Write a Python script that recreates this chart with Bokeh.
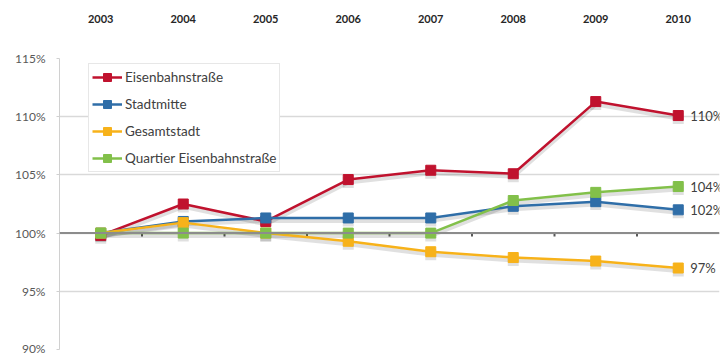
from bokeh.plotting import figure
from bokeh.models import ColumnDataSource, FixedTicker, Range1d, Span
from bokeh.transform import dodge
from bokeh.core.properties import value
from bokeh.embed import file_html
from bokeh.resources import INLINE

years = ["2003", "2004", "2005", "2006", "2007", "2008", "2009", "2010"]
eisenbahnstrasse = [99.8, 102.5, 101.0, 104.6, 105.4, 105.1, 111.3, 110.1]
stadtmitte = [100.0, 101.0, 101.3, 101.3, 101.3, 102.3, 102.7, 102.0]
gesamtstadt = [100.0, 100.9, 100.0, 99.3, 98.4, 97.9, 97.6, 97.0]
quartier = [100.0, 100.0, 100.0, 100.0, 100.0, 102.8, 103.5, 104.0]
y_ticks = [90, 95, 100, 105, 110, 115]

series = [
    ("Eisenbahnstraße", eisenbahnstrasse, "#C0122E"),
    ("Stadtmitte", stadtmitte, "#2F6EA8"),
    ("Gesamtstadt", gesamtstadt, "#F7B21A"),
    ("Quartier Eisenbahnstraße", quartier, "#82C04A"),
]

FONT = "Lato"
xs = list(range(len(years)))

p = figure(width=722, height=355, output_backend="svg", toolbar_location=None,
           x_axis_location="above",
           x_range=Range1d(-0.5, len(years) - 0.5), y_range=Range1d(90, 115),
           min_border_left=59, min_border_right=3, min_border_top=58, min_border_bottom=6)
p.outline_line_color = None
p.background_fill_color = "white"
p.border_fill_color = "white"

# grid
p.xgrid.grid_line_color = None
p.ygrid.grid_line_color = "#D9D9D9"
p.ygrid.grid_line_width = 1.5
p.yaxis.ticker = FixedTicker(ticks=y_ticks)

# y axis
p.yaxis.axis_line_color = "#D0D0D0"
p.yaxis.major_tick_line_color = "#D0D0D0"
p.yaxis.major_tick_in = 0
p.yaxis.major_tick_out = 3
p.yaxis.minor_tick_line_color = None
p.yaxis.major_label_overrides = {t: f"{t}%" for t in y_ticks}
p.yaxis.major_label_text_font = FONT
p.yaxis.major_label_text_font_size = "12px"
p.yaxis.major_label_text_color = "#595959"
p.yaxis.major_label_standoff = 11

# top x axis (years)
p.xaxis.ticker = FixedTicker(ticks=xs)
p.xaxis.major_label_overrides = {i: y for i, y in enumerate(years)}
p.xaxis.axis_line_color = None
p.xaxis.major_tick_line_color = None
p.xaxis.minor_tick_line_color = None
p.xaxis.major_tick_out = 0
p.xaxis.major_label_standoff = 36
p.xaxis.major_label_text_font = FONT
p.xaxis.major_label_text_font_size = "11px"
p.xaxis.major_label_text_font_style = "bold"
p.xaxis.major_label_text_color = "#262626"

# horizontal category axis at 100%
p.add_layout(Span(location=100, dimension="width", line_color="#8C8C8C", line_width=2))
boundaries = [i + 0.5 for i in xs[:-1]]
p.segment(x0=boundaries, x1=boundaries, y0=[100] * len(boundaries),
          y1=[99.7] * len(boundaries), line_color="#595959", line_width=2)

# shadows
for name, vals, color in series:
    src = ColumnDataSource(dict(x=xs, y=vals))
    p.line(x="x", y=dodge("y", -0.25, range=p.y_range), source=src,
           line_color="#000000", line_alpha=0.12, line_width=4)
    p.scatter(x="x", y=dodge("y", -0.25, range=p.y_range), source=src, marker="square",
              size=11, fill_color="#000000", fill_alpha=0.12, line_color=None)

# series
for name, vals, color in series:
    src = ColumnDataSource(dict(x=xs, y=vals))
    p.line(x="x", y="y", source=src, line_color=color, line_width=2.5, legend_label=name)
    p.scatter(x="x", y="y", source=src, marker="square", size=10,
              fill_color=color, line_color=color, legend_label=name)

# end labels
end_src = ColumnDataSource(dict(
    x=[xs[-1]] * len(series),
    y=[vals[-1] for _, vals, _ in series],
    t=[f"{round(vals[-1])}%" for _, vals, _ in series],
))
p.text(x="x", y="y", text="t", source=end_src, x_offset=12,
       text_align="left", text_baseline="middle", text_font=value(FONT),
       text_font_size="13px", text_color="#404040")

lg = p.legend[0]
lg.location = (29, 177)
lg.border_line_color = "#D0D0D0"
lg.border_line_width = 1
lg.background_fill_color = "white"
lg.background_fill_alpha = 1
lg.label_text_font = FONT
lg.label_text_font_size = "13.5px"
lg.label_text_color = "#404040"
lg.glyph_width = 30
lg.glyph_height = 20
lg.label_height = 20
lg.spacing = 7
lg.padding = 3
lg.margin = 0
lg.label_standoff = 3

open("out.html", "w").write(file_html(p, INLINE))
